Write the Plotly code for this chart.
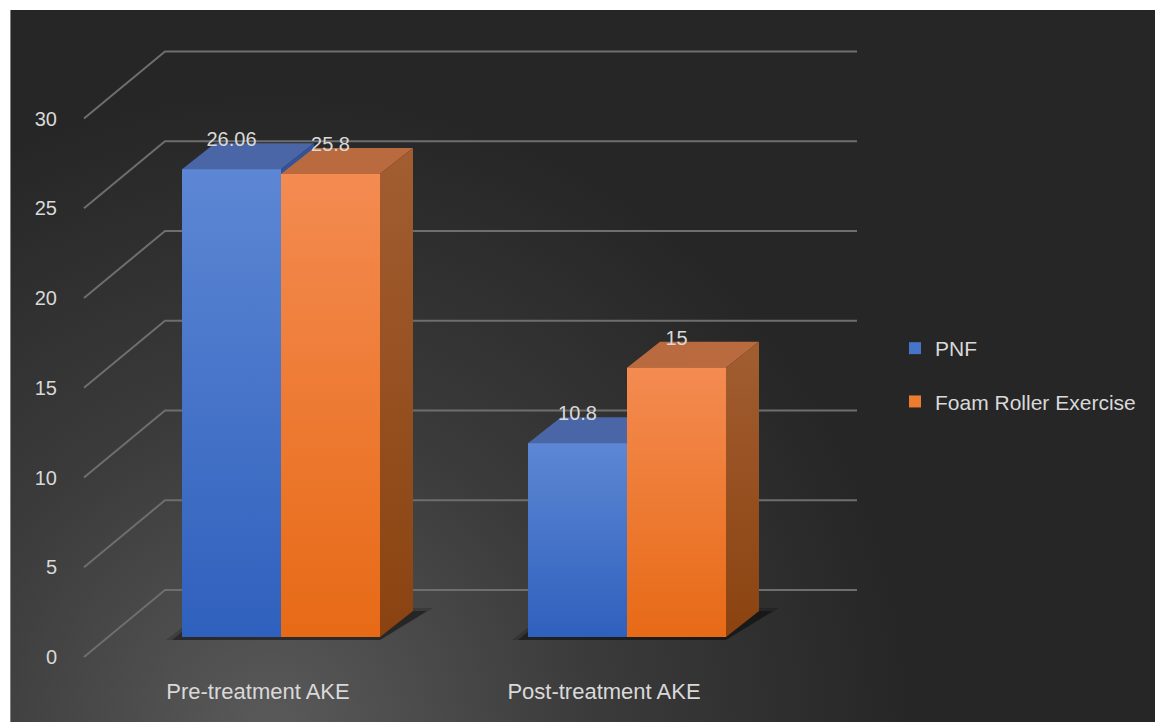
import base64
import plotly.graph_objects as go

# ---------------- data ----------------
categories = ["Pre-treatment AKE", "Post-treatment AKE"]
series_names = ["PNF", "Foam Roller Exercise"]
pnf = [26.06, 10.8]
foam = [25.8, 15]
y_ticks = [0, 5, 10, 15, 20, 25, 30]

# ---------------- geometry (figure pixels; page body adds 8 px) ----------------
OFF = 8
FIG_W, FIG_H = 1163, 722
M_L, M_B = 52, 60
PLOT_W = FIG_W - M_L
PLOT_H = FIG_H - M_B
CAT_PX = 346                 # distance between category centres
CAT0_PX = 281 - OFF - M_L    # x of first category centre inside plot area
ZERO_PX = 637 - OFF          # y of value 0 on the bar front plane
PX_PER_UNIT = 17.95
BAR_W = 99 / CAT_PX          # width of one bar in category units


def dx(px):
    return px / CAT_PX


def dy(px):
    return px / PX_PER_UNIT


X_RANGE = [-CAT0_PX / CAT_PX, (PLOT_W - CAT0_PX) / CAT_PX]
Y_RANGE = [(ZERO_PX - PLOT_H) / PX_PER_UNIT, ZERO_PX / PX_PER_UNIT]

BAR_DX, BAR_DY = dx(33), dy(26)          # bar depth
WALL_DX, WALL_DY = dx(57), dy(47)        # back wall offset
LBL_DX, LBL_DY = dx(24), dy(20)          # front (label) plane offset
FLOOR_L, FLOOR_R = -0.5, len(categories) - 0.5

TEXT_COL = "#d9d9d9"
FONT = "Liberation Sans"
BLUE, ORANGE = "#4674c8", "#ee7c2e"
FRONT_GRAD = [("#2f60bd", "#5d87d4"), ("#e76a16", "#f48b51")]
TOP_COLS = ["#4a66a6", "#b96a3f"]
SIDE_COLS = [("#263f7a", "#34549a"), ("#8a4310", "#a25d31")]

fig = go.Figure()

# ---------------- gridlines on back wall + floor diagonals ----------------
gx, gy = [], []
for v in y_ticks:
    gx += [FLOOR_L - LBL_DX, FLOOR_L + WALL_DX, FLOOR_R + WALL_DX, None]
    gy += [v - LBL_DY, v + WALL_DY, v + WALL_DY, None]
fig.add_trace(go.Scatter(x=gx, y=gy, mode="lines", line=dict(color="#6e6e6e", width=2),
                         hoverinfo="skip", showlegend=False))

# ---------------- floor shadows ----------------
for i in range(len(categories)):
    xl, xr = i - BAR_W, i + BAR_W
    for grow, alpha in [(6, 0.18), (0, 0.35)]:
        fig.add_trace(go.Scatter(
            x=[xl - dx(10 + grow), xr, xr + BAR_DX + dx(14 + grow), xl + BAR_DX - dx(8),
               xl - dx(10 + grow)],
            y=[-dy(3), -dy(3), BAR_DY + dy(grow / 2), BAR_DY + dy(grow / 2), -dy(3)],
            mode="lines", line=dict(width=0), fill="toself",
            fillcolor=f"rgba(0,0,0,{alpha})", hoverinfo="skip", showlegend=False))

# ---------------- 3D top and side faces ----------------
for i in range(len(categories)):
    for s, vals in enumerate([pnf, foam]):
        v = vals[i]
        xl = i - BAR_W + s * BAR_W
        xr = xl + BAR_W
        fig.add_trace(go.Scatter(
            x=[xl, xr, xr + BAR_DX, xl + BAR_DX, xl],
            y=[v, v, v + BAR_DY, v + BAR_DY, v],
            mode="lines", line=dict(width=0), fill="toself", fillcolor=TOP_COLS[s],
            hoverinfo="skip", showlegend=False))
        fig.add_trace(go.Scatter(
            x=[xr, xr + BAR_DX, xr + BAR_DX, xr, xr],
            y=[0, BAR_DY, v + BAR_DY, v, 0],
            mode="lines", line=dict(width=0), fill="toself",
            fillgradient=dict(type="vertical",
                              colorscale=[[0, SIDE_COLS[s][0]], [1, SIDE_COLS[s][1]]]),
            hoverinfo="skip", showlegend=False))

# ---------------- front faces (bars) on overlay axes ----------------
for s, (name, vals, col) in enumerate(zip(series_names, [pnf, foam], [BLUE, ORANGE])):
    fig.add_trace(go.Bar(x=list(range(len(categories))), y=vals, name=name,
                         marker=dict(color=col, line=dict(width=0)),
                         legendgroup=name, xaxis="x2", yaxis="y2"))

# front-face vertical gradient
for i in range(len(categories)):
    for s, vals in enumerate([pnf, foam]):
        v = vals[i]
        xl = i - BAR_W + s * BAR_W
        xr = xl + BAR_W
        fig.add_trace(go.Scatter(
            x=[xl, xr, xr, xl, xl], y=[0, 0, v, v, 0],
            mode="lines", line=dict(width=0), fill="toself",
            fillgradient=dict(type="vertical",
                              colorscale=[[0, FRONT_GRAD[s][0]], [1, FRONT_GRAD[s][1]]]),
            xaxis="x2", yaxis="y2", hoverinfo="skip", showlegend=False))

# data labels
lx, ly, lt = [], [], []
for i in range(len(categories)):
    for s, vals in enumerate([pnf, foam]):
        lx.append(i - BAR_W / 2 + s * BAR_W)
        ly.append(vals[i] + BAR_DY + dy(2))
        lt.append(f"{vals[i]:g}")
fig.add_trace(go.Scatter(x=lx, y=ly, text=lt, mode="text", textposition="middle center",
                         textfont=dict(family=FONT, size=20, color=TEXT_COL),
                         xaxis="x2", yaxis="y2", hoverinfo="skip", showlegend=False))

# ---------------- background gradient ----------------
BG_X0, BG_Y0 = 10 - OFF, 10 - OFF
bg_w, bg_h = FIG_W - BG_X0, FIG_H - BG_Y0
svg = (f"<svg xmlns='http://www.w3.org/2000/svg' width='{bg_w}' height='{bg_h}'>"
       "<defs><radialGradient id='g' gradientUnits='userSpaceOnUse' cx='260' cy='722' r='640'>"
       "<stop offset='0' stop-color='#5a5a5a'/><stop offset='0.5' stop-color='#3b3b3b'/>"
       "<stop offset='1' stop-color='#262626'/></radialGradient></defs>"
       f"<rect width='{bg_w}' height='{bg_h}' fill='url(#g)'/>"
       f"<line x1='0.5' y1='0' x2='0.5' y2='{bg_h}' stroke='#808080' stroke-width='1'/></svg>")
src = "data:image/svg+xml;base64," + base64.b64encode(svg.encode()).decode()

axis_common = dict(showgrid=False, zeroline=False, showline=False, ticks="")

fig.update_layout(
    width=FIG_W, height=FIG_H,
    margin=dict(l=M_L, r=0, t=0, b=M_B, pad=0),
    paper_bgcolor="white", plot_bgcolor="rgba(0,0,0,0)",
    font=dict(family=FONT, size=20, color=TEXT_COL),
    barmode="group", bargap=1 - 2 * BAR_W, bargroupgap=0,
    xaxis=dict(range=X_RANGE, tickvals=list(range(len(categories))), ticktext=categories,
               ticklabelshift=-23, ticklabelstandoff=6, automargin=False,
               tickfont=dict(family=FONT, size=22, color=TEXT_COL), **axis_common),
    yaxis=dict(range=Y_RANGE, tickvals=y_ticks, ticklabelshift=20, ticklabelstandoff=2,
               automargin=False, tickfont=dict(family=FONT, size=20, color=TEXT_COL),
               **axis_common),
    xaxis2=dict(range=X_RANGE, overlaying="x", visible=False),
    yaxis2=dict(range=Y_RANGE, overlaying="y", visible=False),
    legend=dict(x=(895 - OFF - M_L) / PLOT_W, y=1 - 320 / PLOT_H, xanchor="left", yanchor="top",
                bgcolor="rgba(0,0,0,0)", traceorder="grouped", tracegroupgap=23,
                font=dict(family=FONT, size=21, color=TEXT_COL)),
    images=[dict(source=src, xref="paper", yref="paper",
                 x=(BG_X0 - M_L) / PLOT_W, y=1 + (0 - BG_Y0) / PLOT_H,
                 sizex=bg_w / PLOT_W, sizey=bg_h / PLOT_H,
                 xanchor="left", yanchor="top", sizing="stretch", layer="below")],
)

fig.write_html("out.html")
